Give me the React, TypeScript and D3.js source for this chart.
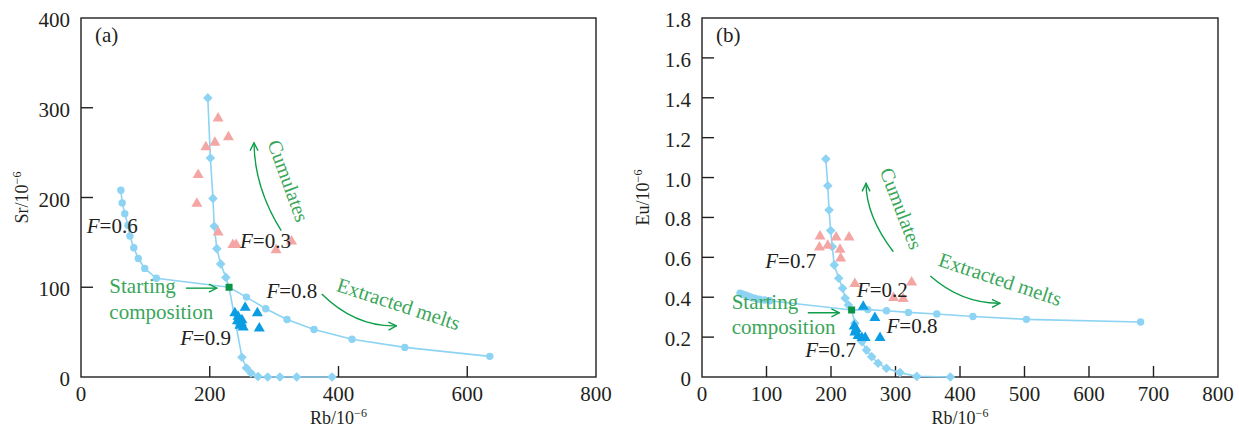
import React from "react";
import * as d3 from "d3";

const W = 1239;
const H = 432;
const FONT = "'Liberation Serif', 'Times New Roman', Times, serif";

const LINE = "#8DD3F3";
const BLUE = "#0A9DE3";
const PINK = "#F4A6A4";
const GREEN_TXT = "#3AA65A";
const GREEN_ARR = "#0E9E4A";
const SQUARE = "#0B9444";

// ---------- Panel (a): Rb vs Sr ----------
const aXTicks = [0, 200, 400, 600, 800];
const aYTicks = [0, 100, 200, 300, 400];
const aCumUpRb = [197, 201, 205, 207, 211, 217, 225];
const aCumUpSr = [311, 244, 199, 168, 143, 126, 111];
const aCumLowRb = [250, 257, 264, 275, 290, 309, 335, 390];
const aCumLowSr = [22, 10, 4.5, 0.5, 0, 0, 0, 0];
const aMeltLowRb = [62, 64, 68, 73, 76, 82, 89, 99, 117];
const aMeltLowSr = [208, 194, 182, 169, 157, 144, 132, 121, 110];
const aMeltHighRb = [257, 287, 320, 362, 421, 503, 635];
const aMeltHighSr = [89, 76, 64, 53, 42, 33, 23];
const aStart = [230, 100];
const aPinkRb = [213, 229, 194, 208, 182, 180, 213, 236, 241, 303, 327];
const aPinkSr = [289, 268, 257, 262, 226, 194, 162, 148, 148, 142, 152];
const aBlueRb = [239, 244, 250, 247, 252, 255, 274, 277, 243, 249];
const aBlueSr = [72, 68, 64, 58, 56, 78, 72, 55, 63, 61];

// ---------- Panel (b): Rb vs Eu ----------
const bXTicks = [0, 100, 200, 300, 400, 500, 600, 700, 800];
const bYTicks = [0, 0.2, 0.4, 0.6, 0.8, 1.0, 1.2, 1.4, 1.6, 1.8];
const bCumUpRb = [192, 195, 197, 199.5, 202, 205, 212, 218, 222, 227];
const bCumUpEu = [1.093, 0.959, 0.837, 0.734, 0.653, 0.562, 0.495, 0.445, 0.395, 0.361];
const bCumLowRb = [237, 248, 255, 263, 273, 286, 307, 333, 385];
const bCumLowEu = [0.27, 0.177, 0.135, 0.102, 0.069, 0.044, 0.022, 0.003, 0.0];
const bMeltLowRb = [59, 62, 65, 68, 72, 76, 82, 89, 97, 105];
const bMeltLowEu = [0.42, 0.417, 0.413, 0.41, 0.405, 0.4, 0.395, 0.39, 0.386, 0.382];
const bMeltHighRb = [257, 286, 320, 364, 420, 503, 680];
const bMeltHighEu = [0.338, 0.332, 0.324, 0.316, 0.303, 0.289, 0.276];
const bStart = [232, 0.336];
const bPinkRb = [183, 208, 228, 182, 195, 214, 215, 237, 325, 297, 312];
const bPinkEu = [0.708, 0.703, 0.703, 0.653, 0.662, 0.642, 0.598, 0.47, 0.478, 0.4, 0.395];
const bBlueRb = [250, 268, 236, 237, 242, 253, 276, 239, 248];
const bBlueEu = [0.356, 0.3, 0.257, 0.227, 0.21, 0.2, 0.2, 0.244, 0.2];

type Pt = [number, number];
const zip = (xs: number[], ys: number[]): Pt[] => xs.map((v, i) => [v, ys[i]] as Pt);

interface Label { text: string; at: Pt }
interface Rot { text: string; at: Pt; angle: number }
interface Arrow { from: Pt; ctrl: Pt; to: Pt }

interface Cfg {
  id: string;
  tag: string;
  left: number; right: number; top: number; bottom: number;
  xDomain: [number, number]; yDomain: [number, number];
  xTicks: number[]; yTicks: number[];
  yFmt: (v: number) => string;
  yTitle: string;
  cumUp: Pt[]; cumLow: Pt[]; meltLow: Pt[]; meltHigh: Pt[]; start: Pt;
  pink: Pt[]; blue: Pt[];
  fLabels: Label[];
  startText: [Pt, Pt];
  startArrow: [Pt, Pt];
  cumText: Rot; meltText: Rot;
  cumArrow: Arrow; meltArrow: Arrow;
}

const fmtA = (v: number) => String(v);
const fmtB = (v: number) => (v === 0 ? "0" : v.toFixed(1));

const panels: Cfg[] = [
  {
    id: "a", tag: "(a)",
    left: 81, right: 596, top: 18, bottom: 377,
    xDomain: [0, 800], yDomain: [0, 400],
    xTicks: aXTicks, yTicks: aYTicks, yFmt: fmtA, yTitle: "Sr/10",
    cumUp: zip(aCumUpRb, aCumUpSr), cumLow: zip(aCumLowRb, aCumLowSr),
    meltLow: zip(aMeltLowRb, aMeltLowSr), meltHigh: zip(aMeltHighRb, aMeltHighSr),
    start: [aStart[0], aStart[1]],
    pink: zip(aPinkRb, aPinkSr), blue: zip(aBlueRb, aBlueSr),
    fLabels: [
      { text: "0.6", at: [9, 160] },
      { text: "0.3", at: [247, 144] },
      { text: "0.8", at: [288, 88] },
      { text: "0.9", at: [154, 36] },
    ],
    startText: [[44, 94], [44, 65]],
    startArrow: [[163, 99], [211, 99]],
    cumText: { text: "Cumulates", at: [312, 216], angle: 70 },
    meltText: { text: "Extracted melts", at: [490, 74], angle: 18 },
    cumArrow: { from: [311, 163], ctrl: [269.5, 210.6], to: [268.7, 261] },
    meltArrow: { from: [374, 92.5], ctrl: [426, 55.7], to: [490, 57] },
  },
  {
    id: "b", tag: "(b)",
    left: 702, right: 1218, top: 18, bottom: 377,
    xDomain: [0, 800], yDomain: [0, 1.8],
    xTicks: bXTicks, yTicks: bYTicks, yFmt: fmtB, yTitle: "Eu/10",
    cumUp: zip(bCumUpRb, bCumUpEu), cumLow: zip(bCumLowRb, bCumLowEu),
    meltLow: zip(bMeltLowRb, bMeltLowEu), meltHigh: zip(bMeltHighRb, bMeltHighEu),
    start: [bStart[0], bStart[1]],
    pink: zip(bPinkRb, bPinkEu), blue: zip(bBlueRb, bBlueEu),
    fLabels: [
      { text: "0.7", at: [98, 0.547] },
      { text: "0.2", at: [240, 0.401] },
      { text: "0.8", at: [286, 0.221] },
      { text: "0.7", at: [160, 0.1] },
    ],
    startText: [[46, 0.341], [46, 0.216]],
    startArrow: [[164, 0.322], [213, 0.322]],
    cumText: { text: "Cumulates", at: [299, 0.833], angle: 69 },
    meltText: { text: "Extracted melts", at: [459, 0.457], angle: 18.5 },
    cumArrow: { from: [296.6, 0.628], ctrl: [254.7, 0.804], to: [254.3, 0.971] },
    meltArrow: { from: [354, 0.506], ctrl: [402.5, 0.3675], to: [462, 0.37] },
  },
];

const diamond = (s: number) => `M0,${-s}L${s},0L0,${s}L${-s},0Z`;
const tri = (w: number, h: number) => `M0,${-h * 0.6}L${w / 2},${h * 0.4}L${-w / 2},${h * 0.4}Z`;

function Panel({ c }: { c: Cfg }) {
  const x = d3.scaleLinear().domain(c.xDomain).range([c.left, c.right]);
  const y = d3.scaleLinear().domain(c.yDomain).range([c.bottom, c.top]);
  const line = d3.line<Pt>().x((d) => x(d[0])).y((d) => y(d[1]));
  const cumPath = [...c.cumUp, c.start, ...c.cumLow];
  const meltPath = [...c.meltLow, c.start, ...c.meltHigh];
  const q = (a: Arrow) => {
    const p = d3.path();
    p.moveTo(x(a.from[0]), y(a.from[1]));
    p.quadraticCurveTo(x(a.ctrl[0]), y(a.ctrl[1]), x(a.to[0]), y(a.to[1]));
    return p.toString();
  };
  const midX = (c.left + c.right) / 2;
  const midY = (c.top + c.bottom) / 2;
  const xr = c.xDomain[1];
  const yr = c.yDomain[1];
  return (
    <g fontFamily={FONT}>
      {/* frame */}
      <rect x={c.left} y={c.top} width={c.right - c.left} height={c.bottom - c.top}
        fill="none" stroke="#231F20" strokeWidth={1.4} />
      {/* ticks */}
      {c.xTicks.filter((t) => t > c.xDomain[0] && t < xr).map((t) => (
        <line key={"xt" + t} x1={x(t)} x2={x(t)} y1={c.bottom} y2={c.bottom - 11} stroke="#231F20" strokeWidth={1.4} />
      ))}
      {c.yTicks.filter((t) => t > c.yDomain[0] && t < yr - 1e-9).map((t) => (
        <line key={"yt" + t} x1={c.left} x2={c.left + 12} y1={y(t)} y2={y(t)} stroke="#231F20" strokeWidth={1.4} />
      ))}
      {c.xTicks.map((t) => (
        <text key={"xl" + t} x={x(t)} y={c.bottom + 24} fontSize={21} textAnchor="middle" fill="#231F20">{t}</text>
      ))}
      {c.yTicks.map((t) => (
        <text key={"yl" + t} x={c.left - 11} y={y(t) + 9} fontSize={21} textAnchor="end" fill="#231F20">{c.yFmt(t)}</text>
      ))}
      {/* axis titles */}
      <text x={midX} y={424} fontSize={18} textAnchor="middle" fill="#231F20">
        Rb/10<tspan fontSize={12} dy={-7}>−6</tspan>
      </text>
      <text transform={`translate(${c.left - 53},${midY}) rotate(-90)`} fontSize={18} textAnchor="middle" fill="#231F20">
        {c.yTitle}<tspan fontSize={12} dy={-7}>−6</tspan>
      </text>
      <text x={c.left + 14} y={c.top + 24} fontSize={21} fill="#231F20">{c.tag}</text>

      {/* curves */}
      <path d={line(cumPath) ?? ""} fill="none" stroke={LINE} strokeWidth={1.6} />
      <path d={line(meltPath) ?? ""} fill="none" stroke={LINE} strokeWidth={1.6} />
      {[...c.cumUp, ...c.cumLow].map((d, i) => (
        <path key={"dm" + i} d={diamond(4.8)} transform={`translate(${x(d[0])},${y(d[1])})`} fill={LINE} />
      ))}
      {[...c.meltLow, ...c.meltHigh].map((d, i) => (
        <circle key={"ci" + i} cx={x(d[0])} cy={y(d[1])} r={3.7} fill={LINE} />
      ))}
      {c.pink.map((d, i) => (
        <path key={"pk" + i} d={tri(11, 9.5)} transform={`translate(${x(d[0])},${y(d[1])})`} fill={PINK} />
      ))}
      {c.blue.map((d, i) => (
        <path key={"bl" + i} d={tri(11, 9.5)} transform={`translate(${x(d[0])},${y(d[1])})`} fill={BLUE} />
      ))}
      <rect x={x(c.start[0]) - 3.5} y={y(c.start[1]) - 3.5} width={7} height={7} fill={SQUARE} />

      {/* F labels */}
      {c.fLabels.map((f, i) => (
        <text key={"f" + i} x={x(f.at[0])} y={y(f.at[1])} fontSize={21} fill="#231F20">
          <tspan fontStyle="italic">F</tspan>=<tspan>{f.text}</tspan>
        </text>
      ))}
      {/* starting composition */}
      <text x={x(c.startText[0][0])} y={y(c.startText[0][1])} fontSize={21} fill={GREEN_TXT}>Starting</text>
      <text x={x(c.startText[1][0])} y={y(c.startText[1][1])} fontSize={21} fill={GREEN_TXT}>composition</text>
      <line x1={x(c.startArrow[0][0])} y1={y(c.startArrow[0][1])} x2={x(c.startArrow[1][0])} y2={y(c.startArrow[1][1])}
        stroke={GREEN_ARR} strokeWidth={1.4} markerEnd="url(#arrowhead)" />
      {/* rotated labels */}
      <text transform={`translate(${x(c.cumText.at[0])},${y(c.cumText.at[1])}) rotate(${c.cumText.angle})`}
        fontSize={20} textAnchor="middle" fill={GREEN_TXT}>{c.cumText.text}</text>
      <text transform={`translate(${x(c.meltText.at[0])},${y(c.meltText.at[1])}) rotate(${c.meltText.angle})`}
        fontSize={20.5} textAnchor="middle" fill={GREEN_TXT}>{c.meltText.text}</text>
      <path d={q(c.cumArrow)} fill="none" stroke={GREEN_ARR} strokeWidth={1.4} markerEnd="url(#arrowhead)" />
      <path d={q(c.meltArrow)} fill="none" stroke={GREEN_ARR} strokeWidth={1.4} markerEnd="url(#arrowhead)" />
    </g>
  );
}

export default function App() {
  return (
    <svg width={W} height={H} viewBox={`0 0 ${W} ${H}`}
      style={{ position: "absolute", left: 0, top: 0, background: "#fff" }}>
      <defs>
        <marker id="arrowhead" viewBox="0 0 10 10" refX={9} refY={5} markerWidth={10} markerHeight={10}
          markerUnits="userSpaceOnUse" orient="auto">
          <path d="M1,1L9,5L1,9" fill="none" stroke={GREEN_ARR} strokeWidth={1.4} />
        </marker>
      </defs>
      <rect x={0} y={0} width={W} height={H} fill="#fff" />
      {panels.map((c) => <Panel key={c.id} c={c} />)}
    </svg>
  );
}
